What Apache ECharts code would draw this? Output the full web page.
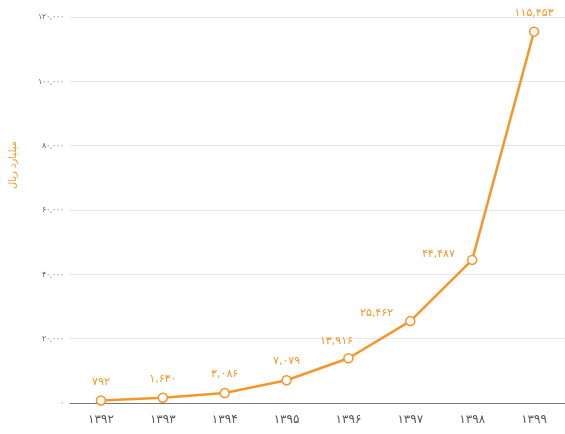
<!DOCTYPE html>
<html><head><meta charset="utf-8">
<script src="https://cdn.jsdelivr.net/npm/echarts@6/dist/echarts.min.js"></script>
<style>html,body{margin:0;padding:0;background:#fff}#c{width:565px;height:434px}</style>
</head><body><div id="c"></div>
<script>
const years = ['1392','1393','1394','1395','1396','1397','1398','1399'];
const values = [792, 1630, 3086, 7079, 13916, 25462, 44487, 115453];
const yTicks = [0, 20000, 40000, 60000, 80000, 100000, 120000];
const yName = 'میلیارد ریال';

function fa(s){return String(s).replace(/[0-9]/g,d=>'۰۱۲۳۴۵۶۷۸۹'[d]);}
function fmt(n){return fa(String(n).replace(/\B(?=(\d{3})+(?!\d))/g, ','));}

const orange = '#f5962c';
const labelPos = {4:{position:'top',offset:[-12,2]},5:{position:'left',offset:[-4,-8]},6:{position:'left',offset:[-4,-6]}};
const data = values.map((v,i)=>{
  const o = {value:v};
  if(labelPos[i]) o.label = labelPos[i];
  return o;
});

const chart = echarts.init(document.getElementById('c'));
chart.setOption({
  animation:false,
  grid:{left:68,right:0,top:17,bottom:31},
  xAxis:{type:'category',data:years.map(fa),boundaryGap:true,
    axisLine:{lineStyle:{color:'#777',width:1}},
    axisTick:{alignWithLabel:true,length:7,lineStyle:{color:'#666'}},
    axisLabel:{color:'#555',fontSize:12,margin:11,fontFamily:'DejaVu Sans'}},
  yAxis:{type:'value',min:yTicks[0],max:yTicks[yTicks.length-1],interval:yTicks[1]-yTicks[0],
    name:yName,nameLocation:'middle',nameRotate:90,nameGap:52,
    nameTextStyle:{color:orange,fontSize:10,fontFamily:'DejaVu Sans',padding:[0,0,0,90]},
    axisLine:{show:false},axisTick:{show:false},
    axisLabel:{color:'#666',fontSize:8,margin:6,formatter:v=>fmt(v)},
    splitLine:{lineStyle:{color:'#e6e6e6'}}},
  series:[{type:'line',data:data,
    lineStyle:{color:orange,width:2.5},
    itemStyle:{color:'#fff',borderColor:orange,borderWidth:1.5},
    symbol:'circle',symbolSize:9,
    label:{show:true,position:'top',distance:8,color:orange,fontSize:11,fontFamily:'DejaVu Sans',formatter:p=>fmt(p.value)}}]
});
</script></body></html>
